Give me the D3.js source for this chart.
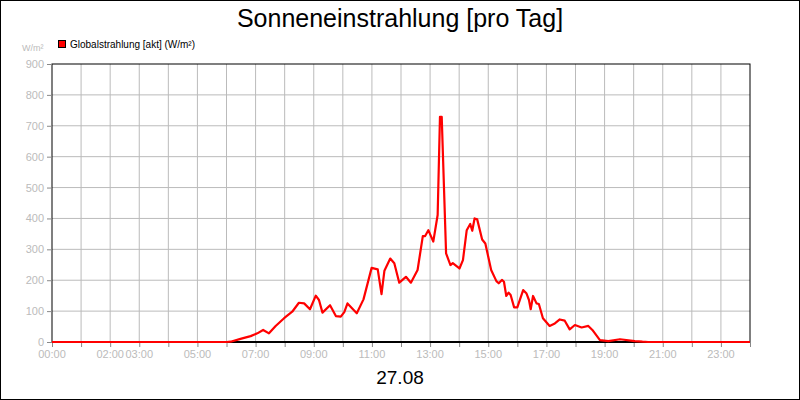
<!DOCTYPE html>
<html><head><meta charset="utf-8">
<script src="https://cdn.jsdelivr.net/npm/d3@7"></script>
<style>body{margin:0;background:#fff}svg{display:block}</style>
</head><body><div id="chart"></div>
<script>
// hours of day and W/m²
var hours = [0,6,6.14,6.48,6.83,7.06,7.26,7.46,7.69,7.98,8.26,8.49,8.67,8.87,9.07,9.18,9.3,9.56,9.76,9.93,10.05,10.16,10.48,10.71,10.99,11.2,11.33,11.43,11.63,11.77,11.94,12.17,12.34,12.57,12.75,12.83,12.94,13.11,13.26,13.34,13.4,13.55,13.7,13.78,14.01,14.13,14.26,14.38,14.45,14.53,14.62,14.79,14.9,15.1,15.28,15.36,15.47,15.54,15.62,15.7,15.77,15.89,16.0,16.2,16.31,16.4,16.46,16.54,16.66,16.74,16.88,17.11,17.29,17.46,17.63,17.8,17.98,18.21,18.44,18.58,18.84,19.13,19.53,20.04,20.3,20.5,24]
var values = [0,0,1,10,19,28,39,28,52,77,98,127,125,106,150,136,95,119,84,82,97,125,93,138,240,235,155,231,270,255,192,211,192,233,343,343,362,325,411,729,729,287,249,255,238,265,362,382,360,400,397,332,319,233,197,190,201,195,149,160,152,112,112,168,158,136,106,149,125,123,77,52,60,73,69,41,55,47,52,39,6,3,9,3,1,0,0]
var xTicks = [0,2,3,5,7,9,11,13,15,17,19,21,23]
var yTicks = [0,100,200,300,400,500,600,700,800,900]

var width = 800, height = 400
var m = {left: 52, right: 50, top: 64, bottom: 58}

var svg = d3.select("#chart").append("svg")
  .attr("width", width).attr("height", height)
  .style("font-family", "Arial, 'Liberation Sans', sans-serif")

svg.append("rect").attr("x", 0.5).attr("y", 0.5)
  .attr("width", width - 1).attr("height", height - 1)
  .attr("fill", "#fff").attr("stroke", "#000")

var x = d3.scaleLinear().domain([0, 24]).range([m.left, width - m.right])
var y = d3.scaleLinear().domain([0, 900]).range([height - m.bottom, m.top])

// grid
svg.append("g").selectAll("line").data(d3.range(1, 24)).enter().append("line")
  .attr("x1", d => x(d)).attr("x2", d => x(d))
  .attr("y1", y(0)).attr("y2", y(900))
  .attr("stroke", "#bbb")
svg.append("g").selectAll("line").data(yTicks.slice(1, -1)).enter().append("line")
  .attr("x1", x(0)).attr("x2", x(24))
  .attr("y1", d => y(d)).attr("y2", d => y(d))
  .attr("stroke", "#bbb")

// frame
svg.append("rect").attr("x", x(0)).attr("y", y(900))
  .attr("width", x(24) - x(0)).attr("height", y(0) - y(900))
  .attr("fill", "none").attr("stroke", "#000")

// axes
var yAxis = svg.append("g").attr("transform", "translate(" + x(0) + ",0)")
  .call(d3.axisLeft(y).tickValues(yTicks).tickSize(5).tickPadding(3))
yAxis.select(".domain").remove()
yAxis.selectAll("line").attr("stroke", "#888")
yAxis.selectAll("text").attr("fill", "#bbb").style("font-size", "11px")

var xAxis = svg.append("g").attr("transform", "translate(0," + y(0) + ")")
  .call(d3.axisBottom(x).tickValues(d3.range(0, 25)).tickSize(5).tickFormat(""))
xAxis.select(".domain").remove()
xAxis.selectAll("line").attr("stroke", "#888")
svg.append("g").selectAll("text").data(xTicks).enter().append("text")
  .attr("x", d => x(d)).attr("y", y(0) + 16)
  .attr("text-anchor", "middle").attr("fill", "#bbb").style("font-size", "11px")
  .text(d => (d < 10 ? "0" : "") + d + ":00")

svg.append("line").attr("x1", x(0)).attr("x2", x(24))
  .attr("y1", y(0)).attr("y2", y(0)).attr("stroke", "#000").attr("stroke-width", 2)

// series
var line = d3.line().x((d, i) => x(hours[i])).y(d => y(d))
svg.append("path").datum(values).attr("d", line)
  .attr("fill", "none").attr("stroke", "#f00").attr("stroke-width", 2.2)
  .attr("stroke-linejoin", "round")

// texts
svg.append("text").attr("x", 400).attr("y", 27).attr("text-anchor", "middle")
  .style("font-size", "25px").text("Sonneneinstrahlung [pro Tag]")
svg.append("text").attr("x", 400).attr("y", 384).attr("text-anchor", "middle")
  .style("font-size", "19px").text("27.08")
svg.append("text").attr("x", 22).attr("y", 51)
  .attr("fill", "#bbb").style("font-size", "9px").text("W/m²")
svg.append("rect").attr("x", 58.5).attr("y", 40.5).attr("width", 7).attr("height", 7)
  .attr("fill", "#f00").attr("stroke", "#000")
svg.append("text").attr("x", 70).attr("y", 48)
  .style("font-size", "10px").text("Globalstrahlung [akt] (W/m²)")
</script></body></html>
